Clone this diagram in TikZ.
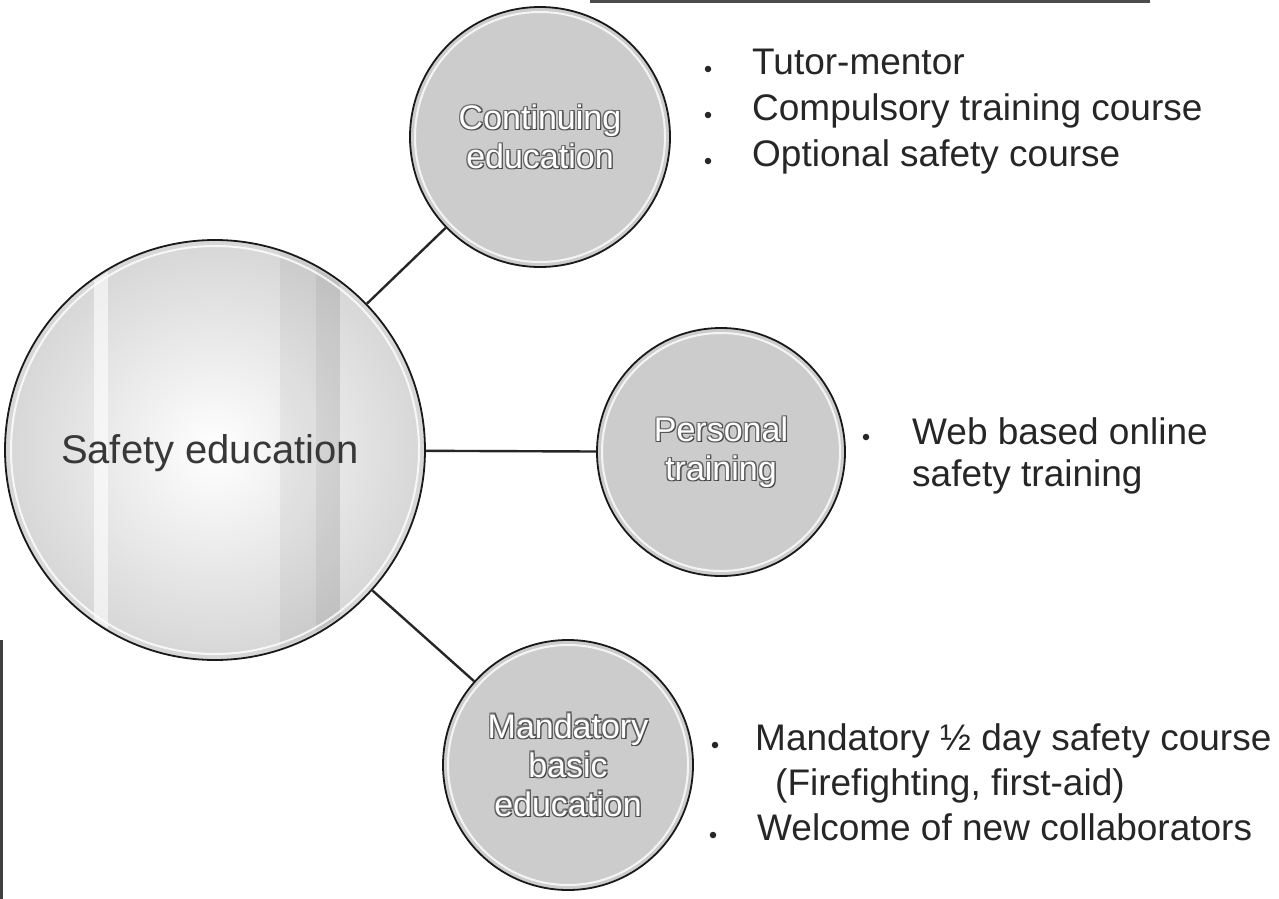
\documentclass[tikz,border=0pt]{standalone}
\usepackage{fontspec}
\setmainfont{Liberation Sans}

% white lettering with a thin dark rim, as used inside the small circles
\newcommand\embtxt[1]{%
  \makebox[0pt][l]{\hspace{1.3pt}\raisebox{-1.3pt}{\textcolor{black!75}{#1}}}%
  \makebox[0pt][l]{\hspace{-1.1pt}\raisebox{-1.3pt}{\textcolor{black!65}{#1}}}%
  \makebox[0pt][l]{\hspace{1.3pt}\raisebox{1.1pt}{\textcolor{black!65}{#1}}}%
  \makebox[0pt][l]{\hspace{-1.1pt}\raisebox{1.1pt}{\textcolor{black!55}{#1}}}%
  \textcolor{white}{#1}}

\newcommand\itemsize{\fontsize{37}{44}\selectfont}
\newcommand\subsize{\fontsize{34}{39}\selectfont}
\newcommand\hubsize{\fontsize{40}{48}\selectfont}

\begin{document}
\begin{tikzpicture}[x=1pt,y=-1pt,
  hub/.style={circle, draw=black!90, line width=1.8pt,
    inner color=white, outer color=gray!32,
    minimum size=420pt, inner sep=0pt},
  sub/.style={circle, draw=black!90, line width=1.8pt, fill=gray!40,
    inner sep=0pt, font=\subsize, align=center},
  link/.style={line width=2.4pt, draw=black!85},
  item/.style={anchor=mid west, font=\itemsize, text=black!85, inner sep=0pt},
  dot/.style={circle, fill=black!85, minimum size=6.5pt, inner sep=0pt},
  rim/.style={draw=white, line width=2pt, opacity=0.8},
]
\useasboundingbox (0,0) rectangle (1279,899);
\fill[white] (0,0) rectangle (1279,899);

% edges of the scanned page
\draw[black!70, line width=3pt] (590,1.5) -- (1150,1.5);
\draw[black!75, line width=3pt] (1.5,640) -- (1.5,899);

% central topic
\node[hub] (hub) at (215,450) {};
\begin{scope}
  \clip (215,450) circle (208);
  \fill[white, opacity=0.6] (94,230) rectangle (108,670);
  \fill[black, opacity=0.10] (316,230) rectangle (340,670);
  \fill[black, opacity=0.05] (280,230) rectangle (316,670);
\end{scope}
\draw[rim] (215,450) circle (204);
\node[font=\hubsize, text=black!78] (hublabel) at (210,453) {Safety education};

% the three branches
\node[sub, minimum size=260pt] (cont) at (540,137) {\embtxt{Continuing}\\\embtxt{education}};
\node[sub, minimum size=248pt] (pers) at (721,452) {\embtxt{Personal}\\\embtxt{training}};
\node[sub, minimum size=250pt] (mand) at (568,765) {\embtxt{Mandatory}\\\embtxt{basic}\\\embtxt{education}};
\draw[rim] (540,137) circle (125);
\draw[rim] (721,452) circle (119);
\draw[rim] (568,765) circle (120);

\draw[link] (hub) -- (cont);
\draw[link] (hub) -- (pers);
\draw[link] (hub) -- (mand);

% items of continuing education
\node[dot] (c1) at (708,69) {};
\node[dot] (c2) at (708,115) {};
\node[dot] (c3) at (708,161) {};
\node[item] (c1t) at (752,72) {Tutor-mentor};
\node[item] (c2t) at (752,118) {Compulsory training course};
\node[item] (c3t) at (752,164) {Optional safety course};

% items of personal training
\node[dot] (p1) at (866,437) {};
\node[item] (p1t) at (912,442) {Web based online};
\node[item] (p1u) at (912,484) {safety training};

% items of mandatory basic education
\node[dot] (m1) at (715,745) {};
\node[dot] (m2) at (713,835) {};
\node[item] (m1t) at (755,748) {Mandatory ½ day safety course};
\node[item] (m1u) at (775,793) {(Firefighting, first-aid)};
\node[item] (m2t) at (757,838) {Welcome of new collaborators};
\end{tikzpicture}
\end{document}
